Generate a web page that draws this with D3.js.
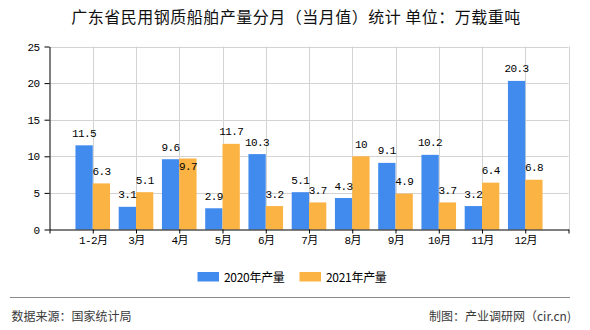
<!DOCTYPE html>
<html>
<head>
<meta charset="utf-8">
<script src="https://cdn.jsdelivr.net/npm/d3@7"></script>
<style>
  html, body { margin: 0; padding: 0; background: #fff; }
  svg { display: block; }
  .mono { font-family: "Liberation Mono", "Noto Sans CJK SC", monospace; }
  .cjk { font-family: "Noto Sans CJK SC", "Liberation Sans", sans-serif; }
</style>
</head>
<body>
<svg id="chart" width="590" height="330"></svg>
<script>
const categories = ["1-2月","3月","4月","5月","6月","7月","8月","9月","10月","11月","12月"];
const series2020 = [11.5, 3.1, 9.6, 2.9, 10.3, 5.1, 4.3, 9.1, 10.2, 3.2, 20.3];
const series2021 = [6.3, 5.1, 9.7, 11.7, 3.2, 3.7, 10, 4.9, 3.7, 6.4, 6.8];
const seriesNames = ["2020年产量", "2021年产量"];
const yTicks = [0, 5, 10, 15, 20, 25];
const titleText = "广东省民用钢质船舶产量分月（当月值）统计 单位：万载重吨";
const sourceText = "数据来源：国家统计局";
const creditText = "制图：产业调研网（cir.cn)";

const colors = ["#428bee", "#fbb443"];
const svg = d3.select("#chart");

const pLeft = 49.5, pRight = 568.5, pTop = 46.5, pBottom = 229.5;
const n = categories.length;
// index scale: slot 0 = left edge, 1..n = categories, n+1 = right edge
const xi = d3.scaleLinear().domain([0, n + 1]).range([pLeft, pRight]);
const step = xi(1) - xi(0);
const y = d3.scaleLinear().domain([0, 25]).range([pBottom, pTop]);
const barW = step * 0.4;

// title
svg.append("text").attr("class", "cjk")
  .attr("x", 296).attr("y", 22.5).attr("text-anchor", "middle")
  .attr("font-size", 16).attr("letter-spacing", 0.5).attr("fill", "#111")
  .text(titleText);

// grid
const grid = svg.append("g");
grid.selectAll("line.h").data(yTicks.filter(d => d > 0)).join("line")
  .attr("x1", pLeft).attr("x2", pRight)
  .attr("y1", d => Math.round(y(d)) + 0.5).attr("y2", d => Math.round(y(d)) + 0.5)
  .attr("stroke", "#d3d3d3").attr("stroke-width", 1);
grid.selectAll("line.v").data(d3.range(1, n + 2)).join("line")
  .attr("x1", d => Math.round(xi(d)) + 0.5).attr("x2", d => Math.round(xi(d)) + 0.5)
  .attr("y1", pTop).attr("y2", pBottom)
  .attr("stroke", "#d3d3d3").attr("stroke-width", 1);

// bars
const bars = svg.append("g");
[series2020, series2021].forEach((s, k) => {
  bars.selectAll("rect.s" + k).data(s).join("rect")
    .attr("x", (d, i) => k === 0 ? xi(i + 1) - barW : xi(i + 1))
    .attr("width", barW)
    .attr("y", d => y(d))
    .attr("height", d => pBottom - y(d))
    .attr("fill", colors[k]);
});

// data labels
const labels = svg.append("g").attr("class", "mono").attr("font-size", 11)
  .attr("letter-spacing", -0.6).attr("text-anchor", "middle").attr("fill", "#000");
series2020.forEach((v, i) => {
  const yb = y(v) - 8.5;
  labels.append("text").attr("x", xi(i + 1) - barW / 2).attr("y", yb).text(String(v));
  const v2 = series2021[i];
  let y2 = y(v2) - 8.5;
  if (Math.abs(y2 - yb) < 9) y2 = y(v2) + 12; // avoid overlap with neighbour label
  labels.append("text").attr("x", xi(i + 1) + barW / 2).attr("y", y2).text(String(v2));
});

// y axis
const yAxis = d3.axisLeft(y).tickValues(yTicks).tickSize(5).tickPadding(5).tickSizeOuter(0);
const gy = svg.append("g").attr("transform", `translate(${pLeft},0)`).call(yAxis);
gy.selectAll("text").attr("class", "mono").attr("font-size", 11).attr("letter-spacing", -0.6).attr("fill", "#000");
gy.select(".domain").attr("stroke", "#000");
gy.selectAll(".tick line").attr("stroke", "#000");

// x axis
const xAxis = d3.axisBottom(xi).tickValues(d3.range(0, n + 2))
  .tickFormat(i => (i >= 1 && i <= n) ? categories[i - 1] : "")
  .tickSize(4).tickPadding(3).tickSizeOuter(0);
const gx = svg.append("g").attr("transform", `translate(0,${pBottom})`).call(xAxis);
gx.selectAll("text").attr("class", "mono").attr("font-size", 11).attr("letter-spacing", -0.6).attr("fill", "#000");
gx.select(".domain").attr("stroke", "#000");
gx.selectAll(".tick line").attr("stroke", "#000");

// legend
const legend = svg.append("g");
const legX = [197.5, 299.5];
seriesNames.forEach((name, k) => {
  legend.append("rect").attr("x", legX[k]).attr("y", 272).attr("width", 21.5).attr("height", 9.5).attr("fill", colors[k]);
  legend.append("text").attr("class", "cjk").attr("x", legX[k] + 26.5).attr("y", 282)
    .attr("font-size", 12).attr("letter-spacing", -0.3).attr("fill", "#000").text(name);
});

// footer
svg.append("line").attr("x1", 10).attr("x2", 570).attr("y1", 297.5).attr("y2", 297.5)
  .attr("stroke", "#8a8a8a").attr("stroke-width", 1.2);
svg.append("text").attr("class", "cjk").attr("x", 11.5).attr("y", 320.5)
  .attr("font-size", 12).attr("fill", "#3a3a3a").text(sourceText);
svg.append("text").attr("class", "cjk").attr("x", 571).attr("y", 320.5).attr("text-anchor", "end")
  .attr("font-size", 12).attr("fill", "#3a3a3a").text(creditText);
</script>
</body>
</html>
